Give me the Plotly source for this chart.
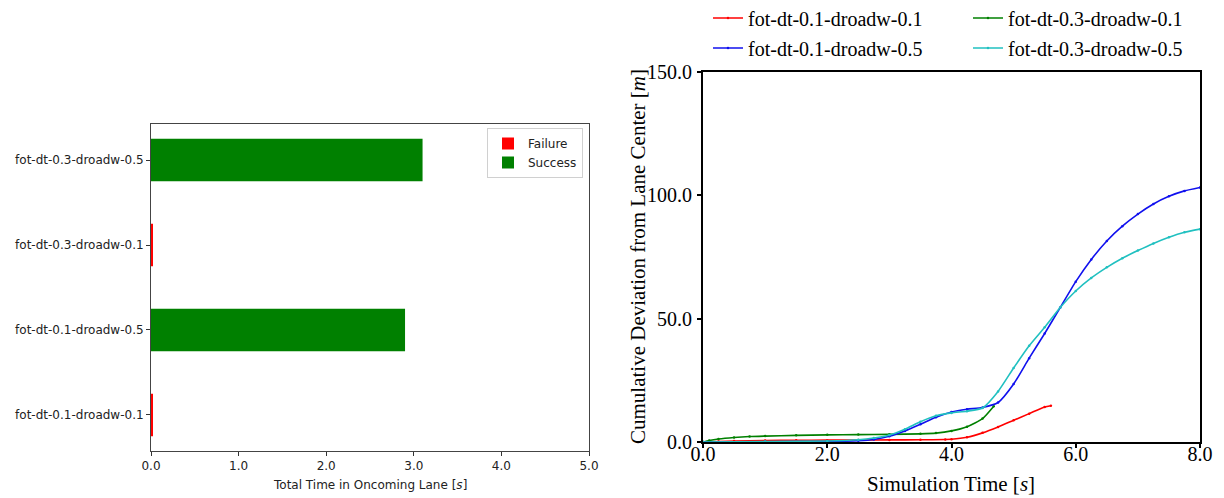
import plotly.graph_objects as go

# ---------------- Left chart data ----------------
configs = ["fot-dt-0.1-droadw-0.1", "fot-dt-0.1-droadw-0.5",
           "fot-dt-0.3-droadw-0.1", "fot-dt-0.3-droadw-0.5"]
failure_time = [0.02, 0.0, 0.02, 0.0]
success_time = [0.0, 2.9, 0.0, 3.1]
bar_ticks = [0, 1, 2, 3, 4, 5]
bar_tick_text = ["0.0", "1.0", "2.0", "3.0", "4.0", "5.0"]

# ---------------- Right chart data ----------------
t_red = [0, 0.25, 0.5, 1.0, 1.5, 2.0, 2.5, 3.0, 3.5, 3.9, 4.0, 4.25, 4.5, 4.75, 5.0, 5.25, 5.5, 5.6]
dev_red = [0, 0.2, 0.4, 0.6, 0.7, 0.75, 0.8, 0.85, 0.9, 1.0, 1.1, 1.9, 3.7, 6.1, 8.8, 11.5, 14.2, 14.7]

t_green = [0, 0.1, 0.25, 0.5, 0.75, 1.0, 1.5, 2.0, 2.5, 3.0, 3.5, 3.75, 4.0, 4.25, 4.5, 4.68]
dev_green = [0, 0.6, 1.2, 1.8, 2.2, 2.4, 2.7, 2.9, 3.0, 3.1, 3.3, 3.6, 4.5, 6.2, 9.5, 14.5]

t_blue = [0, 1.0, 2.0, 2.5, 2.75, 3.0, 3.25, 3.5, 3.75, 4.0, 4.25, 4.5, 4.75, 5.0, 5.25, 5.5,
          5.75, 6.0, 6.25, 6.5, 6.75, 7.0, 7.25, 7.5, 7.75, 8.0]
dev_blue = [0, 0.1, 0.2, 0.5, 1.0, 2.3, 4.5, 7.2, 10.0, 12.2, 13.3, 14.0, 16.0, 23.5, 34.0, 44.0,
            54.5, 65.0, 74.0, 81.5, 87.5, 92.4, 96.5, 99.6, 101.8, 103.2]

t_cyan = [0, 1.0, 2.0, 2.5, 2.75, 3.0, 3.25, 3.5, 3.75, 4.0, 4.25, 4.5, 4.75, 5.0, 5.25, 5.5,
          5.75, 6.0, 6.25, 6.5, 6.75, 7.0, 7.25, 7.5, 7.75, 8.0]
dev_cyan = [0, 0.2, 0.4, 0.9, 1.6, 2.8, 5.2, 8.2, 10.6, 11.8, 12.5, 13.8, 20.5, 30.0, 39.0, 46.5,
            54.5, 61.2, 66.5, 70.8, 74.5, 77.6, 80.5, 83.0, 85.0, 86.3]

line_ticks_x = [0, 2, 4, 6, 8]
line_ticks_x_text = ["0.0", "2.0", "4.0", "6.0", "8.0"]
line_ticks_y = [0, 50, 100, 150]
line_ticks_y_text = ["0.0", "50.0", "100.0", "150.0"]

W, H = 1224, 498
SANS = "DejaVu Sans"
SERIF = "Liberation Serif"

fig = go.Figure()

# Bars
fig.add_trace(go.Bar(y=configs, x=failure_time, orientation="h", name="Failure",
                     marker=dict(color="#ff0000", line=dict(width=0)), width=0.5,
                     xaxis="x", yaxis="y", legend="legend"))
fig.add_trace(go.Bar(y=configs, x=success_time, orientation="h", name="Success",
                     marker=dict(color="#008000", line=dict(width=0)), width=0.5,
                     xaxis="x", yaxis="y", legend="legend"))

# Lines
series = [
    ("fot-dt-0.1-droadw-0.1", t_red, dev_red, "#ff0000", "legend2"),
    ("fot-dt-0.3-droadw-0.1", t_green, dev_green, "#008000", "legend2"),
    ("fot-dt-0.1-droadw-0.5", t_blue, dev_blue, "#1010ee", "legend3"),
    ("fot-dt-0.3-droadw-0.5", t_cyan, dev_cyan, "#20c0c0", "legend3"),
]
for name, t, d, c, lg in series:
    fig.add_trace(go.Scatter(x=t, y=d, mode="lines+markers", name=name,
                             line=dict(color=c, width=1.6, shape="spline", smoothing=0.6),
                             marker=dict(color=c, size=2.5),
                             xaxis="x2", yaxis="y2", legend=lg))

fig.update_layout(
    width=W, height=H,
    margin=dict(l=0, r=0, t=0, b=0, autoexpand=False),
    paper_bgcolor="white", plot_bgcolor="white",
    barmode="overlay",
    xaxis=dict(domain=[151 / W, 589 / W], range=[0, 5], tickvals=bar_ticks, ticktext=bar_tick_text,
               ticks="outside", ticklen=4, tickcolor="#333", showgrid=False, zeroline=False,
               showline=True, linecolor="#444", linewidth=1, mirror=True, automargin=False,
               tickfont=dict(family=SANS, size=12, color="#222"), anchor="y"),
    yaxis=dict(domain=[1 - 451 / H, 1 - 124 / H], type="category", categoryorder="array",
               categoryarray=configs, range=[-0.425, 3.425],
               ticks="outside", ticklen=4, tickcolor="#333", showgrid=False, zeroline=False,
               showline=True, linecolor="#444", linewidth=1, mirror=True, automargin=False,
               tickfont=dict(family=SANS, size=12, color="#222"), anchor="x"),
    xaxis2=dict(domain=[703 / W, 1200 / W], range=[0, 8], tickvals=line_ticks_x, ticktext=line_ticks_x_text,
                ticks="outside", ticklen=4, tickwidth=1.5, tickcolor="black", showgrid=False, zeroline=False,
                showline=True, linecolor="black", linewidth=2, mirror=True, automargin=False,
                ticklabelstandoff=-11,
                tickfont=dict(family=SERIF, size=20, color="black"), anchor="y2"),
    yaxis2=dict(domain=[1 - 442 / H, 1 - 72 / H], range=[0, 150], tickvals=line_ticks_y, ticktext=line_ticks_y_text,
                ticks="outside", ticklen=4, tickwidth=1.5, tickcolor="black", showgrid=False, zeroline=False,
                showline=True, linecolor="black", linewidth=2, mirror=True, automargin=False,
                ticklabelstandoff=1,
                tickfont=dict(family=SERIF, size=20, color="black"), anchor="x2"),
    legend=dict(x=487 / W, y=1 - 128 / H, xanchor="left", yanchor="top",
                bgcolor="rgba(255,255,255,0.9)", bordercolor="#d0d0d0", borderwidth=1,
                font=dict(family=SANS, size=12, color="#222"), tracegroupgap=0),
    legend2=dict(orientation="h", x=708 / W, y=1 - 18 / H, xanchor="left", yanchor="middle",
                 entrywidth=215, font=dict(family=SERIF, size=20, color="black"),
                 bgcolor="rgba(0,0,0,0)"),
    legend3=dict(orientation="h", x=708 / W, y=1 - 48 / H, xanchor="left", yanchor="middle",
                 entrywidth=215, font=dict(family=SERIF, size=20, color="black"),
                 bgcolor="rgba(0,0,0,0)"),
    annotations=[
        dict(text="Total Time in Oncoming Lane [<i>s</i>]", x=370 / W, y=1 - 485 / H,
             xref="paper", yref="paper", showarrow=False, xanchor="center", yanchor="middle",
             font=dict(family=SANS, size=12, color="#222")),
        dict(text="Simulation Time [<i>s</i>]", x=951 / W, y=1 - 484 / H,
             xref="paper", yref="paper", showarrow=False, xanchor="center", yanchor="middle",
             font=dict(family=SERIF, size=21, color="black")),
        dict(text="Cumulative Deviation from Lane Center [<i>m</i>]", x=638 / W, y=1 - 257 / H,
             xref="paper", yref="paper", showarrow=False, xanchor="center", yanchor="middle",
             textangle=-90, font=dict(family=SERIF, size=21, color="black")),
    ],
)

fig.write_html("out.html")
